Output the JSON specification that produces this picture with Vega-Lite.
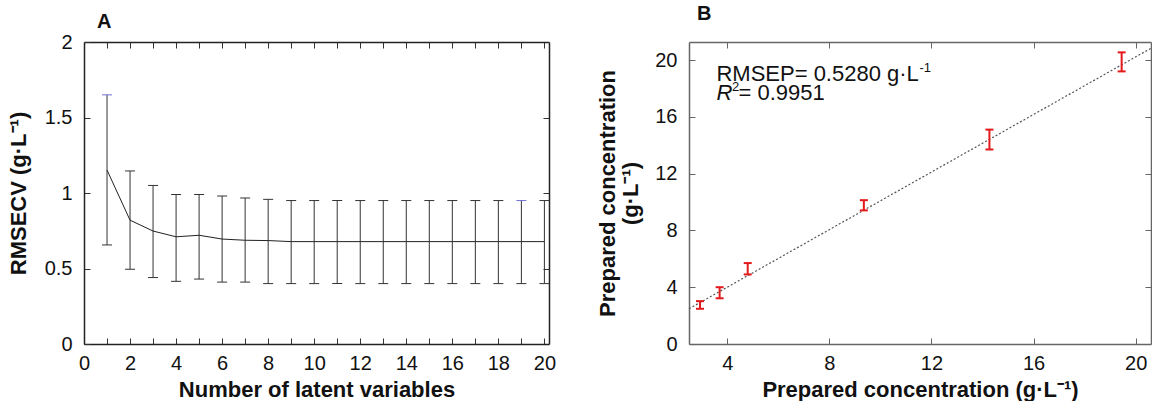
{
  "$schema": "https://vega.github.io/schema/vega-lite/v6.json",
  "padding": {"left": 7, "top": 3, "right": 0, "bottom": 0},
  "background": "white",
  "spacing": 40,
  "config": {
    "font": "Liberation Sans",
    "view": {"stroke": null},
    "axis": {
      "labelFont": "Liberation Sans", "labelFontSize": 20, "labelColor": "#111",
      "titleFont": "Liberation Sans", "titleFontSize": 22, "titleFontWeight": "bold", "titleColor": "#111",
      "grid": false, "tickSize": -6, "labelPadding": 18, "labelOverlap": false, "labelFlush": false,
      "domainWidth": 1.5, "tickWidth": 1
    }
  },
  "datasets": {
    "cv": [
      {"n": 1, "mean": 1.152, "lo": 0.656, "hi": 1.65},
      {"n": 2, "mean": 0.82, "lo": 0.495, "hi": 1.146},
      {"n": 3, "mean": 0.748, "lo": 0.44, "hi": 1.05},
      {"n": 4, "mean": 0.71, "lo": 0.415, "hi": 0.99},
      {"n": 5, "mean": 0.72, "lo": 0.43, "hi": 0.99},
      {"n": 6, "mean": 0.695, "lo": 0.41, "hi": 0.98},
      {"n": 7, "mean": 0.687, "lo": 0.41, "hi": 0.967},
      {"n": 8, "mean": 0.685, "lo": 0.40, "hi": 0.958},
      {"n": 9, "mean": 0.678, "lo": 0.40, "hi": 0.95},
      {"n": 10, "mean": 0.678, "lo": 0.40, "hi": 0.95},
      {"n": 11, "mean": 0.678, "lo": 0.40, "hi": 0.95},
      {"n": 12, "mean": 0.678, "lo": 0.40, "hi": 0.95},
      {"n": 13, "mean": 0.678, "lo": 0.40, "hi": 0.95},
      {"n": 14, "mean": 0.678, "lo": 0.40, "hi": 0.95},
      {"n": 15, "mean": 0.678, "lo": 0.40, "hi": 0.95},
      {"n": 16, "mean": 0.678, "lo": 0.40, "hi": 0.95},
      {"n": 17, "mean": 0.678, "lo": 0.40, "hi": 0.95},
      {"n": 18, "mean": 0.678, "lo": 0.40, "hi": 0.95},
      {"n": 19, "mean": 0.678, "lo": 0.40, "hi": 0.95},
      {"n": 20, "mean": 0.678, "lo": 0.40, "hi": 0.95}
    ],
    "pred": [
      {"x": 2.93, "y": 2.75, "lo": 2.48, "hi": 3.02},
      {"x": 3.70, "y": 3.61, "lo": 3.22, "hi": 4.00},
      {"x": 4.80, "y": 5.30, "lo": 4.90, "hi": 5.70},
      {"x": 9.35, "y": 9.77, "lo": 9.41, "hi": 10.13},
      {"x": 14.27, "y": 14.40, "lo": 13.70, "hi": 15.10},
      {"x": 19.45, "y": 19.87, "lo": 19.20, "hi": 20.54}
    ],
    "fit": [
      {"x": 2.5, "y": 2.48},
      {"x": 20.6, "y": 20.83}
    ]
  },
  "hconcat": [
    {
      "width": 465,
      "height": 302,
      "title": {"text": "A", "anchor": "start", "frame": "group", "dx": 13, "fontSize": 20, "fontWeight": "bold", "offset": 0, "color": "#111", "font": "Liberation Sans"},
      "data": {"name": "cv"},
      "layer": [
        {
          "mark": {"type": "rule", "color": "#333", "strokeWidth": 1},
          "encoding": {
            "x": {"field": "n", "type": "quantitative",
              "scale": {"domain": [0, 20.2], "nice": false, "zero": false},
              "axis": {"orient": "bottom", "values": [0,1,2,3,4,5,6,7,8,9,10,11,12,13,14,15,16,17,18,19,20],
                "labelExpr": "datum.value % 2 === 0 ? datum.label : ''",
                "title": "Number of latent variables", "titlePadding": 6, "labelPadding": 15.5,
                "domainColor": "#222", "tickColor": "#333"}},
            "y": {"field": "lo", "type": "quantitative",
              "scale": {"domain": [0, 2], "nice": false},
              "axis": {"orient": "left", "values": [0, 0.5, 1, 1.5, 2], "format": ".2~f",
                "title": "RMSECV (g·L⁻¹)", "titlePadding": 14,
                "domainColor": "#222", "tickColor": "#333"}},
            "y2": {"field": "hi"}
          }
        },
        {
          "mark": {"type": "tick", "orient": "horizontal", "size": 10, "thickness": 1, "opacity": 1},
          "encoding": {
            "x": {"field": "n", "type": "quantitative", "axis": null},
            "y": {"field": "hi", "type": "quantitative", "axis": null},
            "color": {"condition": {"test": "datum.n === 1 || datum.n === 19", "value": "#6f6fd6"}, "value": "#333"}
          }
        },
        {
          "mark": {"type": "tick", "orient": "horizontal", "size": 10, "thickness": 1, "opacity": 1, "color": "#333"},
          "encoding": {
            "x": {"field": "n", "type": "quantitative", "axis": null},
            "y": {"field": "lo", "type": "quantitative", "axis": null}
          }
        },
        {
          "mark": {"type": "line", "color": "#222", "strokeWidth": 1},
          "encoding": {
            "x": {"field": "n", "type": "quantitative",
              "axis": {"orient": "top", "values": [1,2,3,4,5,6,7,8,9,10,11,12,13,14,15,16,17,18,19,20],
                "labels": false, "title": null, "domainColor": "#222", "tickColor": "#333"}},
            "y": {"field": "mean", "type": "quantitative",
              "axis": {"orient": "right", "values": [0.5, 1, 1.5], "labels": false, "title": null,
                "domainColor": "#222", "tickColor": "#333"}}
          }
        }
      ]
    },
    {
      "width": 462,
      "height": 302,
      "title": {"text": "B", "anchor": "start", "frame": "group", "dx": 8, "fontSize": 20, "fontWeight": "bold", "offset": 18, "color": "#111", "font": "Liberation Sans"},
      "layer": [
        {
          "data": {"name": "fit"},
          "mark": {"type": "line", "color": "#555", "strokeWidth": 1.2, "strokeDash": [2, 2]},
          "encoding": {
            "x": {"field": "x", "type": "quantitative",
              "scale": {"domain": [2.5, 20.6], "nice": false, "zero": false},
              "axis": {"orient": "bottom", "values": [4, 8, 12, 16, 20],
                "title": "Prepared concentration (g·L⁻¹)", "titlePadding": 6, "labelPadding": 15.5,
                "domainColor": "#666", "tickColor": "#666"}},
            "y": {"field": "y", "type": "quantitative",
              "scale": {"domain": [0, 21.27], "nice": false},
              "axis": {"orient": "left", "values": [0, 4, 8, 12, 16, 20],
                "title": ["Prepared concentration", "(g·L⁻¹)"], "titleLineHeight": 23, "titlePadding": 12,
                "domainColor": "#666", "tickColor": "#666"}}
          }
        },
        {
          "data": {"name": "pred"},
          "mark": {"type": "rule", "color": "#e31a1c", "strokeWidth": 2},
          "encoding": {
            "x": {"field": "x", "type": "quantitative",
              "axis": {"orient": "top", "values": [4, 8, 12, 16, 20], "labels": false, "title": null,
                "domainColor": "#666", "tickColor": "#666"}},
            "y": {"field": "lo", "type": "quantitative",
              "axis": {"orient": "right", "values": [4, 8, 12, 16, 20], "labels": false, "title": null,
                "domainColor": "#666", "tickColor": "#666"}},
            "y2": {"field": "hi"}
          }
        },
        {
          "data": {"name": "pred"},
          "mark": {"type": "tick", "orient": "horizontal", "size": 8, "thickness": 2, "opacity": 1, "color": "#e31a1c"},
          "encoding": {
            "x": {"field": "x", "type": "quantitative", "axis": null},
            "y": {"field": "hi", "type": "quantitative", "axis": null}
          }
        },
        {
          "data": {"name": "pred"},
          "mark": {"type": "tick", "orient": "horizontal", "size": 8, "thickness": 2, "opacity": 1, "color": "#e31a1c"},
          "encoding": {
            "x": {"field": "x", "type": "quantitative", "axis": null},
            "y": {"field": "lo", "type": "quantitative", "axis": null}
          }
        },
        {
          "data": {"values": [{"x": 3.575, "y": 18.52, "t": "RMSEP= 0.5280 g·L"}]},
          "mark": {"type": "text", "align": "left", "baseline": "alphabetic", "fontSize": 22, "color": "#111", "font": "Liberation Sans"},
          "encoding": {
            "x": {"field": "x", "type": "quantitative", "axis": null},
            "y": {"field": "y", "type": "quantitative", "axis": null},
            "text": {"field": "t"}
          }
        },
        {
          "data": {"values": [{"x": 3.575, "y": 18.52, "t": "-1"}]},
          "mark": {"type": "text", "align": "left", "baseline": "alphabetic", "fontSize": 13, "dx": 203, "dy": -9, "color": "#111", "font": "Liberation Sans"},
          "encoding": {
            "x": {"field": "x", "type": "quantitative", "axis": null},
            "y": {"field": "y", "type": "quantitative", "axis": null},
            "text": {"field": "t"}
          }
        },
        {
          "data": {"values": [{"x": 3.575, "y": 17.18, "t": "R"}]},
          "mark": {"type": "text", "align": "left", "baseline": "alphabetic", "fontSize": 22, "fontStyle": "italic", "color": "#111", "font": "Liberation Sans"},
          "encoding": {
            "x": {"field": "x", "type": "quantitative", "axis": null},
            "y": {"field": "y", "type": "quantitative", "axis": null},
            "text": {"field": "t"}
          }
        },
        {
          "data": {"values": [{"x": 3.575, "y": 17.18, "t": "2"}]},
          "mark": {"type": "text", "align": "left", "baseline": "alphabetic", "fontSize": 13, "dx": 15.5, "dy": -9, "color": "#111", "font": "Liberation Sans"},
          "encoding": {
            "x": {"field": "x", "type": "quantitative", "axis": null},
            "y": {"field": "y", "type": "quantitative", "axis": null},
            "text": {"field": "t"}
          }
        },
        {
          "data": {"values": [{"x": 3.575, "y": 17.18, "t": "= 0.9951"}]},
          "mark": {"type": "text", "align": "left", "baseline": "alphabetic", "fontSize": 22, "dx": 22, "color": "#111", "font": "Liberation Sans"},
          "encoding": {
            "x": {"field": "x", "type": "quantitative", "axis": null},
            "y": {"field": "y", "type": "quantitative", "axis": null},
            "text": {"field": "t"}
          }
        }
      ]
    }
  ]
}
